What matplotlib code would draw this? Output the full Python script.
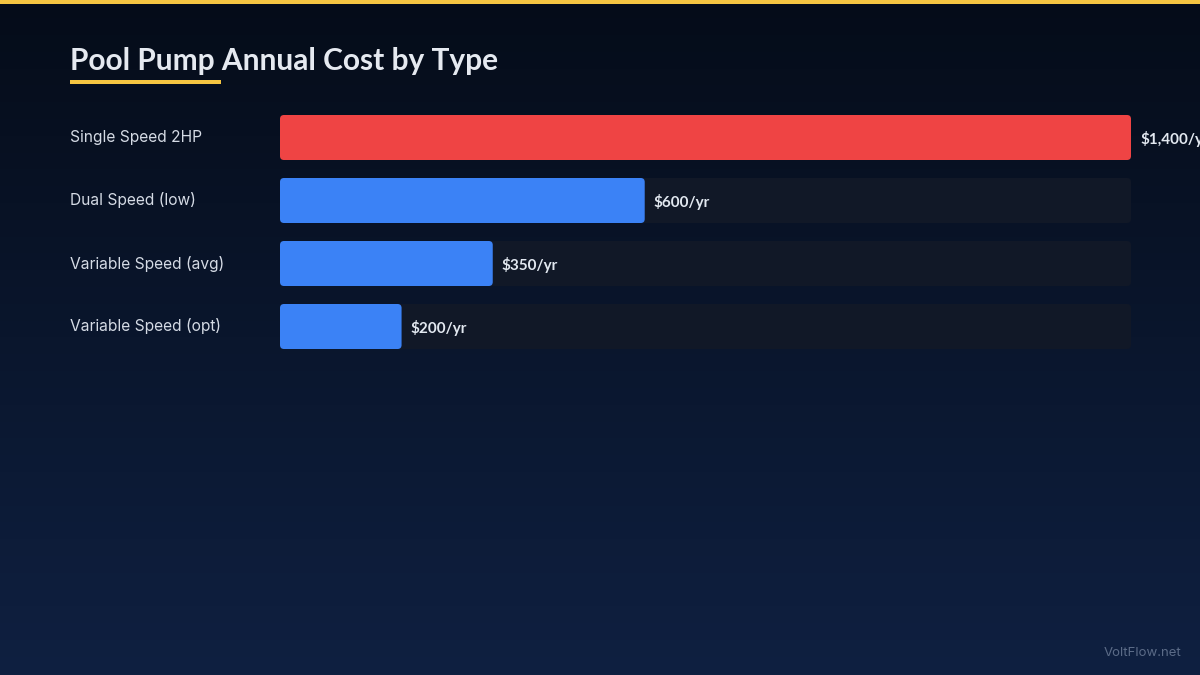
import matplotlib
matplotlib.use("Agg")
import matplotlib.pyplot as plt
import numpy as np
from matplotlib.patches import FancyBboxPatch, Rectangle
import matplotlib.transforms as mtransforms

categories = ["Single Speed 2HP", "Dual Speed (low)", "Variable Speed (avg)", "Variable Speed (opt)"]
costs = [1400, 600, 350, 200]
value_labels = ["$1,400/yr", "$600/yr", "$350/yr", "$200/yr"]
bar_colors = ["#ef4444", "#3b82f6", "#3b82f6", "#3b82f6"]
track_max = 1400
title = "Pool Pump Annual Cost by Type"
watermark = "VoltFlow.net"

W, H = 1200, 675
fig = plt.figure(figsize=(W / 100, H / 100), dpi=100)

# background gradient
bg = fig.add_axes([0, 0, 1, 1], zorder=-10)
top = np.array([0x05, 0x0c, 0x19]) / 255
bot = np.array([0x0f, 0x20, 0x41]) / 255
t = np.linspace(0, 1, 256)[:, None]
grad = top[None, :] * (1 - t) + bot[None, :] * t
bg.imshow(grad[:, None, :].repeat(2, axis=1), aspect="auto", extent=[0, 1, 0, 1], origin="upper")
bg.set_axis_off()

# top stripe
fig.patches.append(Rectangle((0, 1 - 4 / H), 1, 4 / H, transform=fig.transFigure,
                             facecolor="#f5c542", edgecolor="none", zorder=5))

# title + underline
fig.text(70 / W, 1 - 61 / H, title, fontsize=21.5, fontweight="bold", family="Lato",
         color="#e5e9f0", va="center", ha="left")
fig.patches.append(Rectangle((70 / W, 1 - 84 / H), 151 / W, 4 / H, transform=fig.transFigure,
                             facecolor="#f5c542", edgecolor="none"))

# bar axes
left_px, right_px = 280, 1131
first_c, step = 137.5, 63
top_px = first_c - step / 2
bottom_px = top_px + step * len(categories)
ax = fig.add_axes([left_px / W, 1 - bottom_px / H, (right_px - left_px) / W, (bottom_px - top_px) / H])
ax.set_xlim(0, track_max)
ax.set_ylim(len(categories) - 0.5, -0.5)
ax.set_axis_off()
ax.patch.set_alpha(0)

bh = 45 / step
r_px = 4
xu_per_px = track_max / (right_px - left_px)
yu_per_px = 1 / step
rs = r_px * xu_per_px
ma = (r_px * yu_per_px) / rs

ypos = np.arange(len(categories))
tracks = ax.barh(ypos, [track_max] * len(categories), height=bh, color="#111827")
bars = ax.barh(ypos, costs, height=bh, color=bar_colors)

def roundify(container, zorder):
    for p in container:
        x, y = p.get_x(), p.get_y()
        w, h = p.get_width(), p.get_height()
        fp = FancyBboxPatch((x, y), w, h, boxstyle=f"round,pad=0,rounding_size={rs}",
                            mutation_aspect=ma, facecolor=p.get_facecolor(),
                            edgecolor="none", zorder=zorder)
        p.set_visible(False)
        ax.add_patch(fp)

roundify(tracks, 1)
roundify(bars, 2)

lab_trans = mtransforms.blended_transform_factory(fig.transFigure, ax.transData)
for i, (cat, v, vl) in enumerate(zip(categories, costs, value_labels)):
    ax.text(70 / W, i, cat, transform=lab_trans, fontsize=11.2, family="Inter",
            color="#d5dbe5", va="center", ha="left")
    ax.annotate(vl, xy=(v, i), xytext=(9, -1.5), textcoords="offset pixels",
                fontsize=11, fontweight="bold", family="Lato", color="#e2e8f0",
                va="center", ha="left", annotation_clip=False)

fig.text(1181 / W, 1 - 653 / H, watermark, fontsize=9.5, family="Inter",
         color="#5b6b87", ha="right", va="center")

fig.savefig("out.png", dpi=100)
